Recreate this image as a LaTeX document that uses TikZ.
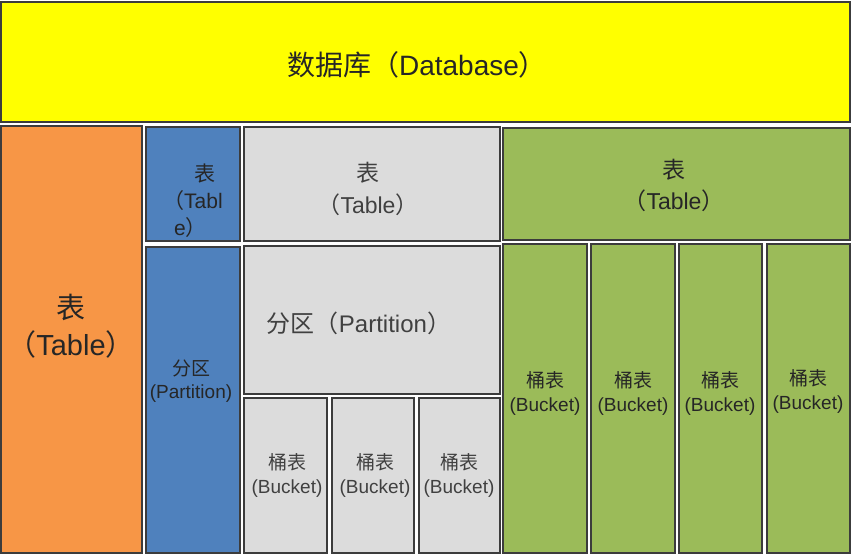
\documentclass[tikz,border=0pt]{standalone}
\usepackage{fontspec}
\setmainfont{Liberation Sans}
\newfontfamily\cjk{Noto Sans CJK SC}
\usepackage{tikz}
\usepackage{xcolor}

\definecolor{dbyellow}{HTML}{FFFF00}
\definecolor{taborange}{HTML}{F79646}
\definecolor{tabblue}{HTML}{4F81BD}
\definecolor{tabgray}{HTML}{DCDCDC}
\definecolor{tabgreen}{HTML}{9BBB59}
\definecolor{edge}{HTML}{3C3C3C}

\newcommand{\zh}[1]{{\cjk #1}}

\tikzset{
  box/.style={draw=edge, line width=1.6pt},
  lbl/.style={align=center, text=black!85, inner sep=0pt},
  bucket/.style={lbl, font=\fontsize{19}{24}\selectfont},
}

\begin{document}
\begin{tikzpicture}[x=1pt, y=-1pt]
        \useasboundingbox[fill=white] (0,0) rectangle (852,556);

        % database
        \draw[box, fill=dbyellow] (1,2) rectangle (850,122);
        \node[lbl, font=\fontsize{28}{32}\selectfont] (db) at (417,65) {\zh{数据库（}Database\zh{）}};

        % first table
        \draw[box, fill=taborange] (1,126) rectangle (142,553);
        \node[lbl, font=\fontsize{29}{37}\selectfont] (t1) at (71,326) {\zh{表}\\\zh{（}Table\zh{）}};

        % second table, one partition
        \draw[box, fill=tabblue] (146,127) rectangle (240,241);
        \draw[box, fill=tabblue] (146,247) rectangle (240,553);
        \node[lbl, align=left, anchor=west, font=\fontsize{21}{27}\selectfont] (t2) at (163,201)
            {\hspace{31pt}\zh{表}\\\zh{（}Tabl\\\hspace{11pt}e\zh{）}};
        \node[lbl, font=\fontsize{19}{23}\selectfont] (p2) at (191,381) {\zh{分区}\\(Partition)};

        % third table, partition with buckets
        \draw[box, fill=tabgray] (244,127) rectangle (500,241);
        \draw[box, fill=tabgray] (244,246) rectangle (500,394);
        \draw[box, fill=tabgray] (244,398) rectangle (327,553);
        \draw[box, fill=tabgray] (332,398) rectangle (414,553);
        \draw[box, fill=tabgray] (419,398) rectangle (500,553);
        \node[lbl, text=black!75, font=\fontsize{23}{32}\selectfont] (t3) at (368,189) {\zh{表}\\\zh{（}Table\zh{）}};
        \node[lbl, text=black!75, font=\fontsize{24}{28}\selectfont] (p3) at (359,323) {\zh{分区（}Partition\zh{）}};
        \node[bucket, text=black!75] (b31) at (287,475) {\zh{桶表}\\(Bucket)};
        \node[bucket, text=black!75] (b32) at (375,475) {\zh{桶表}\\(Bucket)};
        \node[bucket, text=black!75] (b33) at (459,475) {\zh{桶表}\\(Bucket)};

        % fourth table, buckets only
        \draw[box, fill=tabgreen] (503,128) rectangle (850,240);
        \draw[box, fill=tabgreen] (503,244) rectangle (587,553);
        \draw[box, fill=tabgreen] (591,244) rectangle (675,553);
        \draw[box, fill=tabgreen] (679,244) rectangle (762,553);
        \draw[box, fill=tabgreen] (767,244) rectangle (850,553);
        \node[lbl, font=\fontsize{23}{31}\selectfont] (t4) at (674,185) {\zh{表}\\\zh{（}Table\zh{）}};
        \node[bucket] (b41) at (545,393) {\zh{桶表}\\(Bucket)};
        \node[bucket] (b42) at (633,393) {\zh{桶表}\\(Bucket)};
        \node[bucket] (b43) at (720,393) {\zh{桶表}\\(Bucket)};
        \node[bucket] (b44) at (808,391) {\zh{桶表}\\(Bucket)};
    \end{tikzpicture}
\end{document}
